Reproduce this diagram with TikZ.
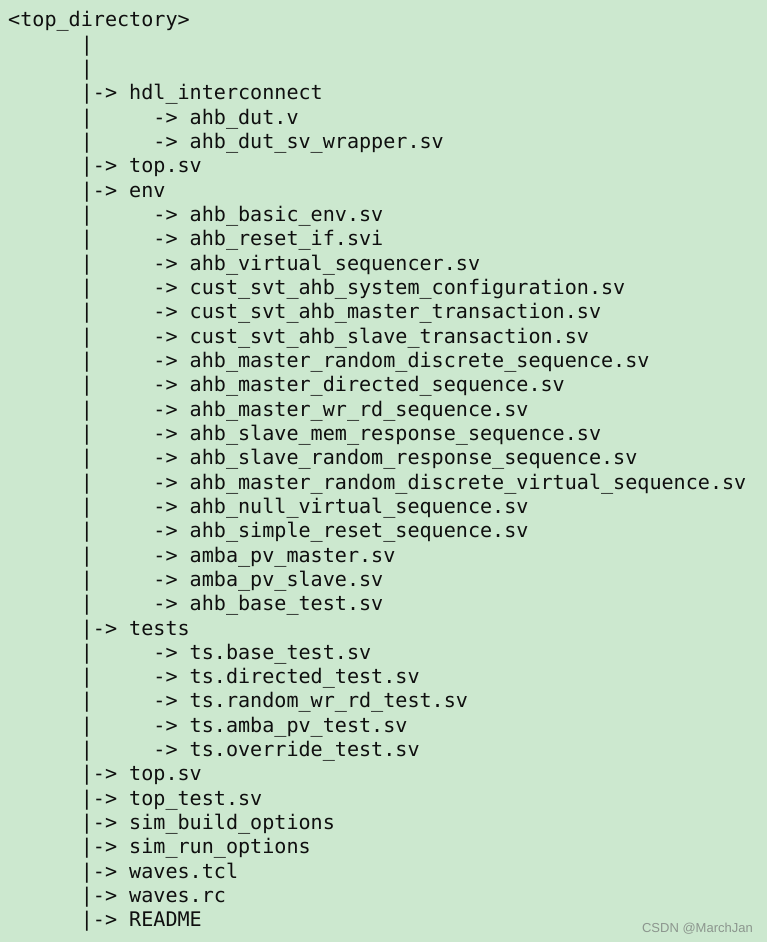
\documentclass[tikz,border=0pt]{standalone}
\usepackage{fontspec}
\newfontfamily\monofam{DejaVu Sans Mono}
\newfontfamily\wmfam{Liberation Sans}
\definecolor{bg}{RGB}{204,232,207}
\definecolor{ink}{RGB}{15,15,15}
\definecolor{wm}{RGB}{140,150,142}
\newcounter{rw}
\newcommand\colx[1]{#1*12.1+8}
\newcommand\rowy{27+24.32*\therw-24.32}
\newcommand\rowtop[1]{\stepcounter{rw}\node[txt] (r\therw) at ({\colx{0}},{\rowy}) {#1};}
\newcommand\rowbar{\stepcounter{rw}\node[txt] (r\therw) at ({\colx{6}},{\rowy}) {|};}
\newcommand\rowdir[1]{\stepcounter{rw}\node[txt] (r\therw) at ({\colx{6}},{\rowy}) {|-> #1};}
\newcommand\rowsub[1]{\stepcounter{rw}\node[txt] (b\therw) at ({\colx{6}},{\rowy}) {|};\node[txt] (r\therw) at ({\colx{12}},{\rowy}) {-> #1};}
\begin{document}
\begin{tikzpicture}[x=1pt,y=-1pt,
  txt/.style={anchor=base west, inner sep=0pt, font=\monofam\fontsize{20.1}{24}\selectfont, text=ink}]
\fill[bg] (0,0) rectangle (767,942);
\useasboundingbox (0,0) rectangle (767,942);
\rowtop{<top\_directory>}
\rowbar
\rowbar
\rowdir{hdl\_interconnect}
\rowsub{ahb\_dut.v}
\rowsub{ahb\_dut\_sv\_wrapper.sv}
\rowdir{top.sv}
\rowdir{env}
\rowsub{ahb\_basic\_env.sv}
\rowsub{ahb\_reset\_if.svi}
\rowsub{ahb\_virtual\_sequencer.sv}
\rowsub{cust\_svt\_ahb\_system\_configuration.sv}
\rowsub{cust\_svt\_ahb\_master\_transaction.sv}
\rowsub{cust\_svt\_ahb\_slave\_transaction.sv}
\rowsub{ahb\_master\_random\_discrete\_sequence.sv}
\rowsub{ahb\_master\_directed\_sequence.sv}
\rowsub{ahb\_master\_wr\_rd\_sequence.sv}
\rowsub{ahb\_slave\_mem\_response\_sequence.sv}
\rowsub{ahb\_slave\_random\_response\_sequence.sv}
\rowsub{ahb\_master\_random\_discrete\_virtual\_sequence.sv}
\rowsub{ahb\_null\_virtual\_sequence.sv}
\rowsub{ahb\_simple\_reset\_sequence.sv}
\rowsub{amba\_pv\_master.sv}
\rowsub{amba\_pv\_slave.sv}
\rowsub{ahb\_base\_test.sv}
\rowdir{tests}
\rowsub{ts.base\_test.sv}
\rowsub{ts.directed\_test.sv}
\rowsub{ts.random\_wr\_rd\_test.sv}
\rowsub{ts.amba\_pv\_test.sv}
\rowsub{ts.override\_test.sv}
\rowdir{top.sv}
\rowdir{top\_test.sv}
\rowdir{sim\_build\_options}
\rowdir{sim\_run\_options}
\rowdir{waves.tcl}
\rowdir{waves.rc}
\rowdir{README}
\node[anchor=base east, inner sep=0pt, font=\wmfam\fontsize{13}{14}\selectfont, text=wm] (wm) at (753,932) {CSDN @MarchJan};
\end{tikzpicture}
\end{document}
